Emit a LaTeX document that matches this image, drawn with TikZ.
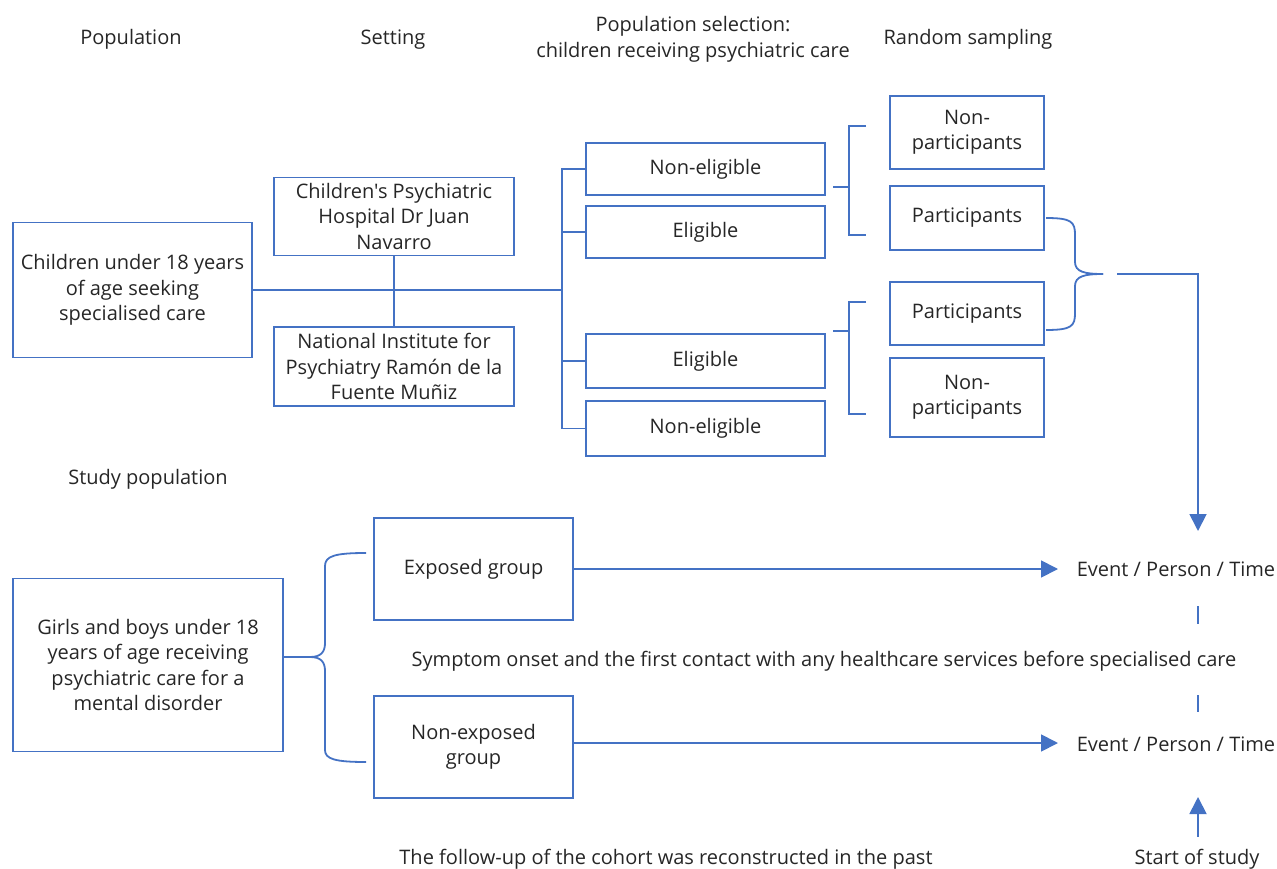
\documentclass[tikz,border=0pt]{standalone}
\usepackage{fontspec}
\setmainfont{Open Sans}[Ligatures=TeXOff]
\usetikzlibrary{arrows.meta}
\definecolor{lb}{HTML}{4472C4}
\definecolor{tx}{HTML}{262626}
\begin{document}
\begin{tikzpicture}[x=1pt,y=-1pt,
  box/.style={draw=lb,line width=1.8pt,inner sep=0pt,align=center,text=tx,font=\fontsize{20}{25.5}\selectfont},
  lbl/.style={text=tx,align=center,font=\fontsize{20}{25.5}\selectfont,inner sep=0pt},
  ln/.style={draw=lb,line width=1.8pt},
  arr/.style={ln,-{Triangle[length=17pt,width=17pt]}}]
\useasboundingbox (0,0) rectangle (1277,869);
% headers
\node[lbl] (h1) at (131,39.5) {Population};
\node[lbl] (h2) at (393,39.5) {Setting};
\node[lbl] (h3) at (693,39.5) {Population selection:\\children receiving psychiatric care};
\node[lbl] (h4) at (968,39.5) {Random sampling};
% boxes
\node[box,minimum width=239pt,minimum height=135pt] (A) at (132.5,290) {Children under 18 years\\of age seeking\\specialised care};
\node[box,minimum width=240pt,minimum height=78pt] (H1) at (394,216.5) {Children's Psychiatric\\Hospital Dr Juan\\Navarro};
\node[box,minimum width=240pt,minimum height=79pt] (H2) at (394,366.5) {National Institute for\\Psychiatry Ramón de la\\Fuente Muñiz};
\node[box,minimum width=239pt,minimum height=52pt] (NE1) at (705.5,169) {Non-eligible};
\node[box,minimum width=239pt,minimum height=52pt] (E1) at (705.5,232) {Eligible};
\node[box,minimum width=239pt,minimum height=54pt] (E2) at (705.5,361) {Eligible};
\node[box,minimum width=239pt,minimum height=55pt] (NE2) at (705.5,428.5) {Non-eligible};
\node[box,minimum width=154pt,minimum height=73pt] (NP1) at (967,132.5) {Non-\\participants};
\node[box,minimum width=154pt,minimum height=64pt] (P1) at (967,218) {Participants};
\node[box,minimum width=154pt,minimum height=63pt] (P2) at (967,313.5) {Participants};
\node[box,minimum width=154pt,minimum height=79pt] (NP2) at (967,397.5) {Non-\\participants};
% tree connectors
\coordinate (t) at (562,290);
\draw[ln] (A.east) -- (t);
\draw[ln] (H1.south) -- (H2.north);
\draw[ln] (NE1.west) -- (NE1.west -| t) -- (NE2.west -| t) -- (NE2.west);
\draw[ln] (E1.west) -- (E1.west -| t);
\draw[ln] (E2.west) -- (E2.west -| t);
% square brackets
\coordinate (s1) at (833,187);
\coordinate (s2) at (833,331);
\draw[ln] (s1) -- (849,187);
\draw[ln] (866,126) -- (849,126) -- (849,235) -- (866,235);
\draw[ln] (s2) -- (849,331);
\draw[ln] (866,302) -- (849,302) -- (849,414) -- (866,414);
% curly brace right
\coordinate (tip) at (1103,274);
\draw[ln] (1046,218) .. controls (1072,218) and (1075,222) .. (1075,235) -- (1075,262) .. controls (1075,272) and (1085,274) .. (tip);
\draw[ln] (1046,330) .. controls (1072,330) and (1075,326) .. (1075,313) -- (1075,286) .. controls (1075,276) and (1085,274) .. (tip);
\coordinate (r0) at (1117,274);
\coordinate (r1) at (1198,274);
% lower part
\node[lbl] (sp) at (148,479.5) {Study population};
\node[box,minimum width=270pt,minimum height=173pt] (G) at (148,665) {Girls and boys under 18\\years of age receiving\\psychiatric care for a\\mental disorder};
\node[box,minimum width=199pt,minimum height=102pt] (X) at (473.5,569) {Exposed group};
\node[box,minimum width=199pt,minimum height=102pt] (N) at (473.5,747) {Non-exposed\\group};
\node[lbl] (ev1) at (1176,569.5) {Event / Person / Time};
\node[lbl] (ev2) at (1176,744.5) {Event / Person / Time};
\node[lbl] (so) at (824,661.5) {Symptom onset and the first contact with any healthcare services before specialised care};
\node[lbl] (fu) at (666,859) {The follow-up of the cohort was reconstructed in the past};
\node[lbl] (st) at (1197,859) {Start of study};
\draw[arr] (r0) -- (r1) -- (1198,531);
\draw[arr] (X.east) -- (1058,569);
\draw[arr] (N.east |- 0,743) -- (1058,743);
% left curly brace
\coordinate (lt) at (310,657);
\draw[ln] (G.east |- lt) -- (lt);
\draw[ln] (lt) .. controls (321,657) and (325,652) .. (325,643) -- (325,566) .. controls (325,556) and (335,553) .. (366,553);
\draw[ln] (lt) .. controls (321,657) and (325,662) .. (325,671) -- (325,750) .. controls (325,759) and (335,762) .. (366,762);
% dashed
\draw[draw=lb,line width=1.6pt] (1198,606) -- (1198,624);
\draw[draw=lb,line width=1.6pt] (1198,695) -- (1198,712);
% start arrow
\draw[arr] (st.north -| 1198,0) ++(0,-12) coordinate (sa) -- (1198,797);
\end{tikzpicture}
\end{document}
